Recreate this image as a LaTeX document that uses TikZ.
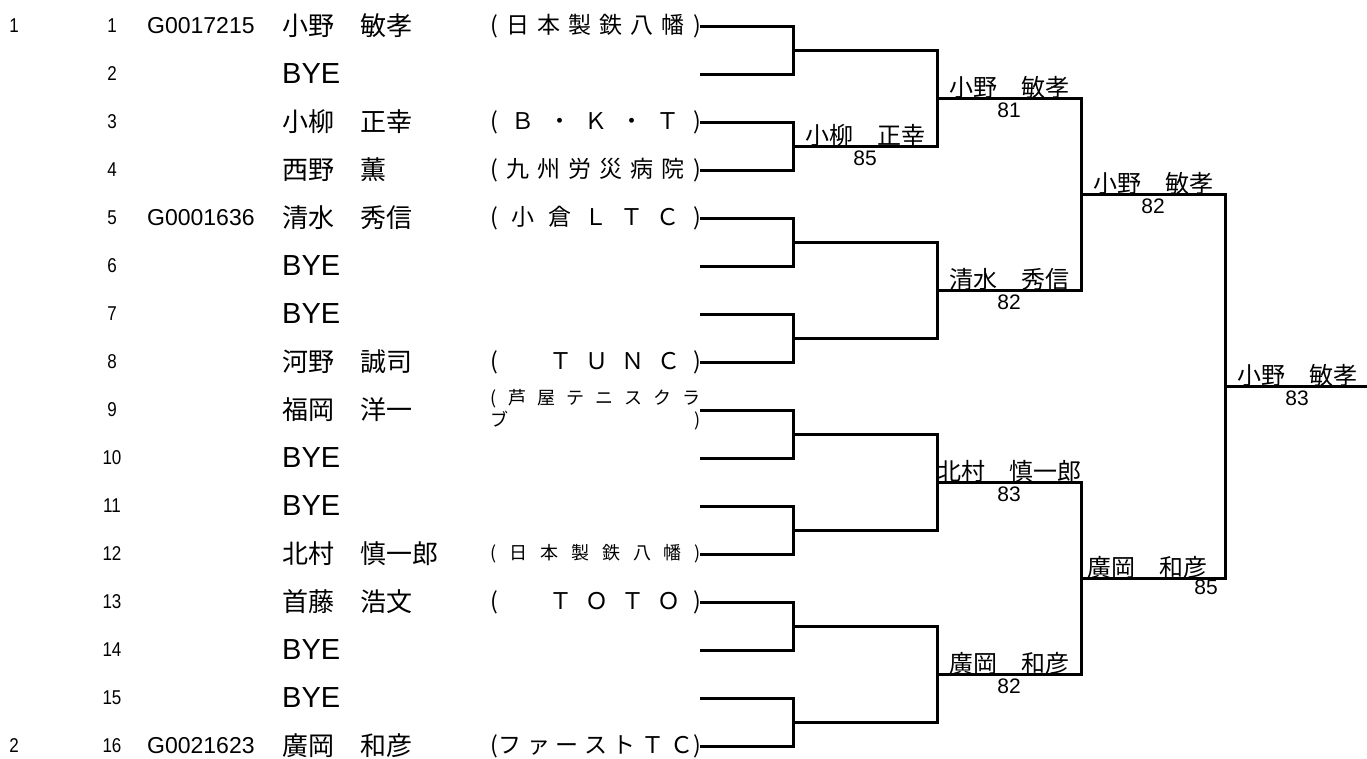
\documentclass[tikz,border=0pt]{standalone}
\usepackage{fontspec}
\setmainfont{Noto Sans CJK JP}
\newfontfamily\lat{Liberation Sans}
\newfontfamily\narrow[FakeStretch=0.85]{Liberation Sans}
\usetikzlibrary{calc}
\newcommand{\spread}[2]{\makebox[#1][s]{#2}}
\newcommand{\bye}{{\lat\fontsize{29}{29}\selectfont BYE}}
\tikzset{
  bracket/.style={line width=3pt,line cap=rect},
  seed/.style={inner sep=0pt,font=\narrow\fontsize{20}{20}\selectfont},
  code/.style={anchor=west,inner sep=0pt,font=\lat\fontsize{23}{23}\selectfont},
  player/.style={anchor=west,inner sep=0pt,font=\fontsize{26}{26}\selectfont},
  club/.style={anchor=east,inner sep=0pt,font=\fontsize{23}{23}\selectfont},
  winner/.style={anchor=base,inner sep=0pt,yshift=2pt,font=\fontsize{24}{24}\selectfont},
  score/.style={anchor=north,inner sep=0pt,font=\lat\fontsize{21}{21}\selectfont}
}
\begin{document}
\begin{tikzpicture}[x=1pt,y=-1pt]
\useasboundingbox (0,0) rectangle (1367,758);
\pgfmathsetmacro{\h}{48}
% entries
\foreach \i/\nm in {1/小野　敏孝,2/\bye,3/小柳　正幸,4/西野　薫,5/清水　秀信,6/\bye,7/\bye,8/河野　誠司,
  9/福岡　洋一,10/\bye,11/\bye,12/北村　慎一郎,13/首藤　浩文,14/\bye,15/\bye,16/廣岡　和彦}{
  \pgfmathsetmacro{\yy}{26+(\i-1)*\h}
  \coordinate (w0-\i) at (701,\yy);
  \node[seed] (s\i) at (112,\yy) {\i};
  \node[player] (n\i) at (282,\yy) {\nm};
}
\node[seed] (g1) at (14,26) {1};
\node[seed] (g2) at (14,746) {2};
\foreach \i/\g in {1/G0017215,5/G0001636,16/G0021623}
  \node[code] (k\i) at (147,{26+(\i-1)*\h}) {\g};
% clubs
\node[club] (c1) at (w0-1) {\spread{210pt}{( 日 本 製 鉄 八 幡 )}};
\node[club] (c3) at (w0-3) {\spread{210pt}{( Ｂ ・ Ｋ ・ Ｔ )}};
\node[club] (c4) at (w0-4) {\spread{210pt}{( 九 州 労 災 病 院 )}};
\node[club] (c5) at (w0-5) {\spread{210pt}{( 小 倉 Ｌ Ｔ Ｃ )}};
\node[club] (c8) at (w0-8) {\spread{210pt}{(\hspace{38pt} Ｔ Ｕ Ｎ Ｃ )}};
\node[club,align=left,font=\fontsize{18}{22}\selectfont] (c9) at (w0-9)
  {\spread{210pt}{( 芦 屋 テ ニ ス ク ラ}\\\spread{210pt}{ブ\hfill )}};
\node[club,font=\fontsize{18}{18}\selectfont] (c12) at (w0-12) {\spread{210pt}{( 日 本 製 鉄 八 幡 )}};
\node[club] (c13) at (w0-13) {\spread{210pt}{(\hspace{38pt} Ｔ Ｏ Ｔ Ｏ )}};
\node[club] (c16) at (w0-16) {\spread{210pt}{(フ ァ ー ス ト Ｔ Ｃ)}};
% brackets
\foreach \r in {1,...,4}{
  \pgfmathtruncatemacro{\pr}{\r-1}
  \pgfmathtruncatemacro{\cnt}{2^(4-\r)}
  \pgfmathsetmacro{\xx}{793+144*(\r-1)}
  \foreach \m in {1,...,\cnt}{
    \pgfmathtruncatemacro{\ta}{2*\m-1}
    \pgfmathtruncatemacro{\tb}{2*\m}
    \pgfmathsetmacro{\yy}{26+\h*(2^\r*(\m-1)+(2^\r-1)/2)}
    \coordinate (v\r-\m) at (\xx,\yy);
    \draw[bracket] (w\pr-\ta) -| (v\r-\m) |- (w\pr-\tb);
    \draw[bracket] (v\r-\m) -- ++(144,0) coordinate (w\r-\m);
  }
}
% winners and scores
\foreach \at/\nm/\sc/\lx/\sx/\sy in {1-2/小柳　正幸/85/0/0/5,2-1/小野　敏孝/81/0/0/5,2-2/清水　秀信/82/0/0/5,
  2-3/北村　慎一郎/83/0/0/5,2-4/廣岡　和彦/82/0/0/5,3-1/小野　敏孝/82/0/0/5,3-2/廣岡　和彦/85/-6/53/2,
  4-1/小野　敏孝/83/0/0/5}{
  \node[winner,xshift=\lx pt] (l\at) at ($(v\at)!0.5!(w\at)$) {\nm};
  \node[score,xshift=\sx pt,yshift=-\sy pt] (t\at) at ($(v\at)!0.5!(w\at)$) {\sc};
}
\end{tikzpicture}
\end{document}
